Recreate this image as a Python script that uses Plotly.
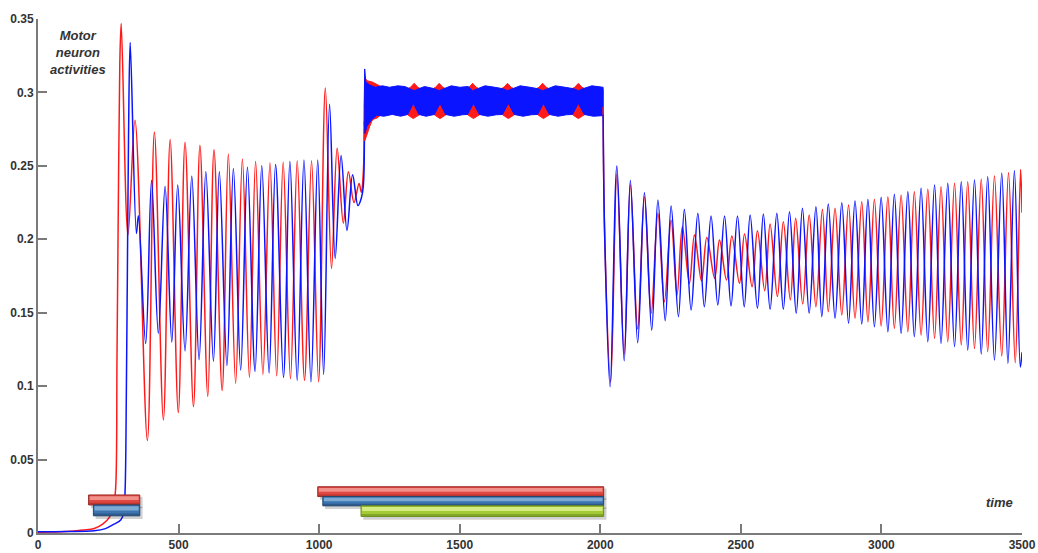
import plotly.graph_objects as go

# ---------------- data ----------------
# Phase 1 (0 - 1160): extremes of each oscillation (time, activity)
red_t = [0, 100, 160, 200, 230, 255, 268, 276, 281, 286, 291, 296,
         320, 345, 389, 414, 446, 470, 499, 523, 553, 576, 604, 626, 655, 677,
         703, 727, 752, 774, 800, 825, 849, 872, 898, 922, 948, 973, 998,
         1022, 1044, 1064, 1086, 1104, 1124, 1142, 1150, 1157, 1161]
red_v = [0.0005, 0.001, 0.002, 0.003, 0.006, 0.011, 0.018, 0.03, 0.12, 0.23, 0.32, 0.347,
         0.203, 0.281, 0.063, 0.273, 0.077, 0.268, 0.082, 0.266, 0.086, 0.264, 0.093, 0.261, 0.097, 0.258,
         0.102, 0.2546, 0.106, 0.253, 0.108, 0.252, 0.107, 0.2525, 0.105, 0.2535, 0.104, 0.2535, 0.103,
         0.303, 0.180, 0.262, 0.211, 0.246, 0.225, 0.238, 0.232, 0.245, 0.28]

blue_t = [0, 100, 200, 240, 270, 295, 305, 310, 314, 318, 322, 328,
          350, 357, 383, 404, 428, 452, 476, 497, 523, 547, 573, 597, 624, 645,
          672, 695, 721, 745, 772, 796, 822, 845, 873, 896, 922, 946, 971, 995,
          1016, 1037, 1057, 1078, 1099, 1119, 1138, 1150, 1157, 1161]
blue_v = [0.0008, 0.001, 0.0015, 0.003, 0.006, 0.009, 0.014, 0.03, 0.09, 0.18, 0.27, 0.334,
          0.204, 0.216, 0.129, 0.240, 0.136, 0.236, 0.130, 0.237, 0.124, 0.243, 0.118, 0.246, 0.117, 0.246,
          0.114, 0.248, 0.111, 0.249, 0.110, 0.250, 0.109, 0.251, 0.106, 0.253, 0.104, 0.254, 0.103, 0.254,
          0.108, 0.292, 0.187, 0.257, 0.206, 0.244, 0.223, 0.228, 0.236, 0.29]

# Phase 2 (1160 - 2010): envelope of the fast oscillation band
red_band_up_t = [1160, 1163, 1170, 1190, 1210, 1240, 1310, 1325, 1338, 1351, 1366, 1400, 1414, 1427, 1440, 1455,
                 1518, 1533, 1546, 1559, 1574, 1642, 1657, 1670, 1683, 1698, 1767, 1782, 1795, 1808, 1823,
                 1894, 1909, 1922, 1935, 1950, 2010]
red_band_up_v = [0.28, 0.31, 0.308, 0.307, 0.305, 0.302, 0.302, 0.3035, 0.3062, 0.3035, 0.302, 0.302, 0.3035, 0.3062, 0.3035, 0.302,
                 0.302, 0.3035, 0.3062, 0.3035, 0.302, 0.302, 0.3035, 0.3062, 0.3035, 0.302, 0.302, 0.3035, 0.3062, 0.3035, 0.302,
                 0.302, 0.3035, 0.3062, 0.3035, 0.302, 0.302]
red_band_lo_t = [1160, 1162, 1168, 1180, 1190, 1205, 1225, 1310, 1322, 1335, 1348, 1362, 1405, 1417, 1430, 1443, 1457,
                 1524, 1536, 1549, 1562, 1576, 1648, 1660, 1673, 1686, 1700, 1773, 1785, 1798, 1811, 1825,
                 1897, 1909, 1922, 1935, 1949, 2010]
red_band_lo_v = [0.275, 0.267, 0.270, 0.277, 0.2815, 0.2825, 0.2855, 0.2855, 0.2838, 0.2822, 0.2838, 0.2855,
                 0.2855, 0.2838, 0.2822, 0.2838, 0.2855, 0.2855, 0.2838, 0.2822, 0.2838, 0.2855,
                 0.2855, 0.2838, 0.2822, 0.2838, 0.2855, 0.2855, 0.2838, 0.2822, 0.2838, 0.2855,
                 0.2855, 0.2838, 0.2822, 0.2838, 0.2855, 0.2855]

blue_band_up_t = [1160, 1162, 1166, 1180, 1200, 1225, 1250, 1280, 1305, 1322, 1338, 1354, 1375, 1411, 1427, 1443,
                  1470, 1500, 1530, 1546, 1562, 1590, 1625, 1654, 1670, 1686, 1715, 1750, 1779, 1795, 1811,
                  1840, 1875, 1906, 1922, 1938, 1970, 2000, 2010]
blue_band_up_v = [0.29, 0.316, 0.307, 0.305, 0.3035, 0.3045, 0.3035, 0.3045, 0.304, 0.3025, 0.3012, 0.3025, 0.304,
                  0.3025, 0.3012, 0.3025, 0.3045, 0.3035, 0.304, 0.3012, 0.3025, 0.3045, 0.3035, 0.3025, 0.3012,
                  0.3025, 0.3045, 0.3035, 0.3025, 0.3012, 0.3025, 0.3045, 0.3035, 0.3025, 0.3012, 0.3025, 0.3045,
                  0.3038, 0.3035]
blue_band_lo_t = [1160, 1163, 1170, 1185, 1205, 1230, 1260, 1290, 1315, 1335, 1355, 1380, 1410, 1430, 1450,
                  1480, 1510, 1528, 1549, 1570, 1600, 1630, 1652, 1673, 1694, 1725, 1755, 1777, 1798, 1819,
                  1850, 1880, 1901, 1922, 1943, 1975, 2010]
blue_band_lo_v = [0.28, 0.272, 0.277, 0.281, 0.2845, 0.2838, 0.285, 0.2838, 0.285, 0.2925, 0.285, 0.2838, 0.285,
                  0.2925, 0.285, 0.2838, 0.2848, 0.285, 0.2925, 0.285, 0.2838, 0.2848, 0.285, 0.2925, 0.285,
                  0.2838, 0.2848, 0.285, 0.2925, 0.285, 0.2838, 0.2848, 0.285, 0.2925, 0.285, 0.2838, 0.2842]

# Phase 3 (2010 - 3500): extremes of each oscillation
red3_t = [2010, 2016, 2037, 2059, 2085, 2107, 2133, 2157, 2181, 2205, 2228, 2252, 2273, 2292, 2317,
          2335, 2360, 2379, 2407, 2424, 2449, 2468, 2495, 2513, 2540, 2559, 2585, 2604, 2630, 2651,
          2676, 2695, 2720, 2743, 2767, 2790, 2811, 2835, 2859, 2883, 2906, 2930, 2952, 2975, 2999,
          3023, 3046, 3070, 3094, 3117, 3141, 3165, 3189, 3212, 3236, 3260, 3284, 3307, 3331, 3355,
          3378, 3402, 3428, 3452, 3476, 3495, 3500]
red3_v = [0.29, 0.20, 0.103, 0.244, 0.122, 0.237, 0.139, 0.229, 0.1496, 0.2177, 0.1575, 0.213, 0.162, 0.2086, 0.170,
          0.2029, 0.1716, 0.2013, 0.1734, 0.1995, 0.1723, 0.2022, 0.170, 0.2036, 0.1677, 0.2058, 0.165, 0.2104, 0.161, 0.212,
          0.1587, 0.2143, 0.156, 0.2165, 0.1541, 0.2204, 0.1507, 0.2211, 0.1484, 0.2233, 0.1462, 0.2256, 0.1439, 0.2272, 0.141,
          0.229, 0.1394, 0.2302, 0.1371, 0.2324, 0.1348, 0.234, 0.1326, 0.2358, 0.1303, 0.2381, 0.128, 0.2392, 0.1257, 0.2408,
          0.1235, 0.2431, 0.1205, 0.2453, 0.116, 0.2476, 0.218]

blue3_t = [2010, 2016, 2035, 2059, 2085, 2107, 2133, 2157, 2183, 2205, 2231, 2252, 2278, 2299, 2323,
           2347, 2370, 2394, 2418, 2442, 2465, 2488, 2512, 2533, 2559, 2580, 2604, 2628, 2651, 2673,
           2697, 2719, 2743, 2767, 2788, 2811, 2835, 2859, 2883, 2906, 2930, 2952, 2975, 2999, 3023,
           3046, 3070, 3094, 3117, 3141, 3165, 3189, 3212, 3236, 3260, 3284, 3307, 3331, 3355, 3378,
           3402, 3428, 3450, 3473, 3494, 3500]
blue3_v = [0.285, 0.20, 0.0996, 0.2499, 0.1173, 0.240, 0.1296, 0.2317, 0.1382, 0.2267, 0.1446, 0.2227, 0.1473, 0.2204, 0.1518,
           0.2177, 0.1541, 0.2158, 0.1553, 0.2158, 0.1546, 0.2158, 0.154, 0.2165, 0.153, 0.2172, 0.1523, 0.2177, 0.1523, 0.2188,
           0.1496, 0.2211, 0.1496, 0.2222, 0.1473, 0.224, 0.1462, 0.2249, 0.1428, 0.2263, 0.1423, 0.2272, 0.1405, 0.2286, 0.1371,
           0.2306, 0.136, 0.2324, 0.1337, 0.2347, 0.1303, 0.237, 0.1292, 0.2381, 0.1269, 0.2392, 0.1246, 0.2404, 0.1219, 0.2426,
           0.1178, 0.2449, 0.1156, 0.2467, 0.113, 0.123]

# Stimulus bars (start time, end time, bottom, top)
bar_start = [180, 197, 995, 1013, 1149]
bar_end = [362, 362, 2012, 2012, 2012]
bar_bottom = [0.0191, 0.0117, 0.0248, 0.0185, 0.0113]
bar_top = [0.0259, 0.0191, 0.0315, 0.0248, 0.0185]
bar_kind = ["red", "blue", "red", "blue", "green"]

x_ticks = [0, 500, 1000, 1500, 2000, 2500, 3000, 3500]
y_ticks = [0, 0.05, 0.1, 0.15, 0.2, 0.25, 0.3, 0.35]
y_tick_text = ["0", "0.05", "0.1", "0.15", "0.2", "0.25", "0.3", "0.35"]

# ---------------- figure ----------------
RED = "#ff1a1a"
BLUE = "#0a14ff"

fig = go.Figure()

def band(t_up, v_up, t_lo, v_lo, color):
    xs = list(t_up) + list(reversed(t_lo))
    ys = list(v_up) + list(reversed(v_lo))
    fig.add_trace(go.Scatter(x=xs, y=ys, fill="toself", fillcolor=color, mode="lines",
                             line=dict(color=color, width=1), hoverinfo="skip", showlegend=False))

line_style = dict(shape="spline", smoothing=1.0, width=1.5)

fig.add_trace(go.Scatter(x=red_t, y=red_v, mode="lines", line=dict(color=RED, **line_style), showlegend=False))
fig.add_trace(go.Scatter(x=blue_t, y=blue_v, mode="lines", line=dict(color=BLUE, **line_style), showlegend=False))
band(red_band_up_t, red_band_up_v, red_band_lo_t, red_band_lo_v, RED)
band(blue_band_up_t, blue_band_up_v, blue_band_lo_t, blue_band_lo_v, BLUE)
fig.add_trace(go.Scatter(x=red3_t, y=red3_v, mode="lines", line=dict(color=RED, **line_style), showlegend=False))
fig.add_trace(go.Scatter(x=blue3_t, y=blue3_v, mode="lines", line=dict(color=BLUE, **line_style), showlegend=False))

palette = {
    "red": ("#df4740", "#f7a7a2", "#9c2824"),
    "blue": ("#3c74b0", "#93bbe2", "#22466e"),
    "green": ("#a3cb36", "#e6f7a0", "#6a8b1c"),
}
shapes = []
for x0, x1, y0, y1, k in zip(bar_start, bar_end, bar_bottom, bar_top, bar_kind):
    body, hi, edge = palette[k]
    h = y1 - y0
    shapes.append(dict(type="rect", xref="x", yref="y", x0=x0 + 8, x1=x1 + 10, y0=y0 - 0.0022, y1=y1 - 0.0012,
                       fillcolor="rgba(0,0,0,0.18)", line=dict(width=0), layer="above"))
    shapes.append(dict(type="rect", xref="x", yref="y", x0=x0, x1=x1, y0=y0, y1=y1,
                       fillcolor=body, line=dict(color=edge, width=1), layer="above"))
    shapes.append(dict(type="rect", xref="x", yref="y", x0=x0 + 4, x1=x1 - 4, y0=y0 + h * 0.5, y1=y1 - h * 0.12,
                       fillcolor=hi, line=dict(width=0), opacity=0.75, layer="above"))
    shapes.append(dict(type="rect", xref="x", yref="y", x0=x0 + 1, x1=x1 - 1, y0=y0 + h * 0.02, y1=y0 + h * 0.22,
                       fillcolor=edge, line=dict(width=0), opacity=0.55, layer="above"))

fig.update_layout(
    width=1038, height=553,
    margin=dict(l=38, r=16, t=19, b=20, autoexpand=False),
    paper_bgcolor="white", plot_bgcolor="white",
    shapes=shapes,
    xaxis=dict(range=[0, 3500], tickvals=x_ticks, ticks="inside", ticklen=9, tickwidth=1.5,
               tickcolor="#7a7a7a", showline=True, linecolor="#7a7a7a", linewidth=2,
               showgrid=False, zeroline=False,
               tickfont=dict(family="Liberation Sans, Arial", size=12, color="#333333", weight="bold")),
    yaxis=dict(range=[0, 0.35], tickvals=y_ticks, ticktext=y_tick_text, ticks="inside", ticklen=9,
               tickwidth=1.5, tickcolor="#7a7a7a", showline=True, linecolor="#7a7a7a", linewidth=2,
               showgrid=False, zeroline=False,
               tickfont=dict(family="Liberation Sans, Arial", size=12, color="#333333", weight="bold")),
    annotations=[
        dict(text="Motor<br>neuron<br>activities", xref="paper", yref="paper", x=(78 - 38) / 984,
             y=(533 - 53) / 514, xanchor="center", yanchor="middle", showarrow=False, align="center",
             font=dict(family="Liberation Sans, Arial", size=13, color="#333333", weight="bold", style="italic")),
        dict(text="time", xref="paper", yref="paper", x=(999 - 38) / 984, y=(533 - 502) / 514,
             xanchor="center", yanchor="middle", showarrow=False,
             font=dict(family="Liberation Sans, Arial", size=13, color="#333333", weight="bold", style="italic")),
    ],
)

fig.write_html("out.html")
